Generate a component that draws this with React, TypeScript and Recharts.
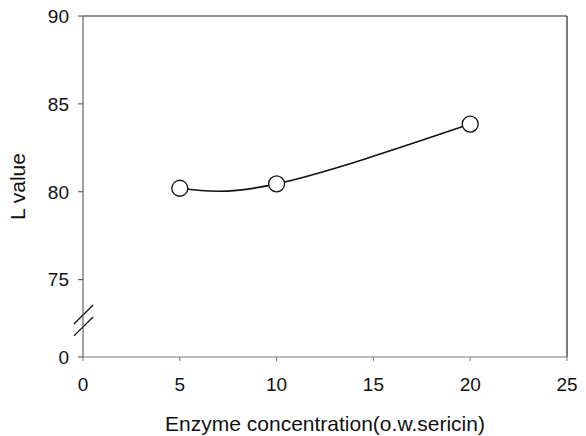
import React from "react";
import {
  LineChart,
  Line,
  XAxis,
  YAxis,
  ReferenceLine,
} from "recharts";

// enzyme concentration (o.w. sericin) vs L value
const concentrations = [5, 10, 20];
const lValues = [80.2, 80.45, 83.85];

const xTicks = [0, 5, 10, 15, 20, 25];
// broken axis: the bottom tick stands for 0
const axisBase = 70.6;
const yTicks = [axisBase, 75, 80, 85, 90];

const data = concentrations.map((c, i) => ({ conc: c, L: lValues[i] }));

const font = "'Liberation Sans', Arial, sans-serif";

const OpenDot = (props: any) => {
  const { cx, cy } = props;
  if (cx == null || cy == null) return null;
  return <circle cx={cx} cy={cy} r={8} fill="#fff" stroke="#111" strokeWidth={1.3} />;
};

const App: React.FC = () => {
  return (
    <div style={{ position: "absolute", left: 0, top: 0, background: "#fff" }}>
      <LineChart
        width={586}
        height={436}
        data={data}
        margin={{ top: 16, right: 19, bottom: 0, left: 0 }}
        style={{ fontFamily: font }}
      >
        <XAxis
          dataKey="conc"
          type="number"
          domain={[0, 25]}
          ticks={xTicks}
          height={79}
          stroke="#777"
          tickSize={4}
          tickMargin={17}
          tick={{ fill: "#111", fontSize: 19 }}
          label={{ value: "Enzyme concentration(o.w.sericin)", position: "insideBottom", offset: 5, fill: "#111", fontSize: 21 }}
        />
        <YAxis
          type="number"
          domain={[axisBase, 90]}
          ticks={yTicks}
          width={83}
          stroke="#444"
          tickSize={5}
          tickMargin={9}
          tickFormatter={(v: number) => (v === axisBase ? "0" : String(v))}
          tick={{ fill: "#111", fontSize: 19 }}
          label={{ value: "L value", angle: -90, position: "insideLeft", offset: 18, fill: "#111", fontSize: 21, style: { textAnchor: "middle" } }}
        />
        {/* frame: top and right edges */}
        <ReferenceLine y={90} stroke="#222" strokeWidth={1.2} />
        <ReferenceLine x={25} stroke="#222" strokeWidth={1.2} />
        {/* axis break marks */}
        <ReferenceLine
          segment={[{ x: -0.47, y: 72.48 }, { x: 0.52, y: 73.56 }]}
          ifOverflow="visible"
          stroke="#111"
          strokeWidth={1.3}
        />
        <ReferenceLine
          segment={[{ x: -0.47, y: 71.8 }, { x: 0.52, y: 72.88 }]}
          ifOverflow="visible"
          stroke="#111"
          strokeWidth={1.3}
        />
        <Line
          type="natural"
          dataKey="L"
          stroke="#111"
          strokeWidth={1.6}
          dot={<OpenDot />}
          activeDot={false}
          isAnimationActive={false}
        />
      </LineChart>
    </div>
  );
};

export default App;
